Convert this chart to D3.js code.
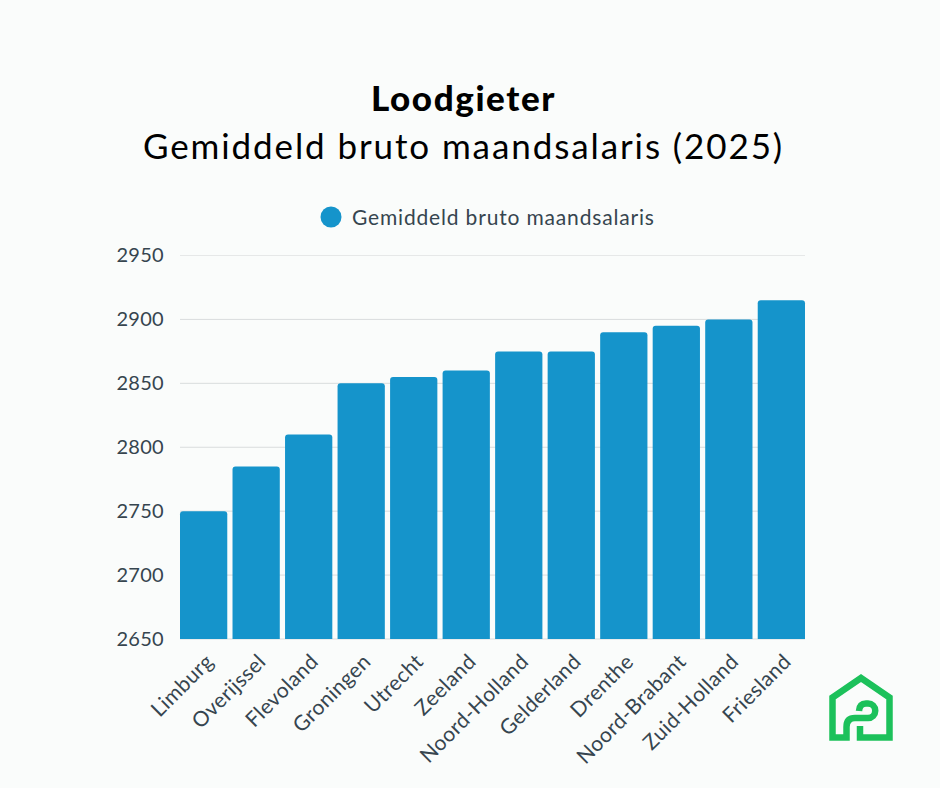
<!DOCTYPE html>
<html>
<head>
<meta charset="utf-8">
<script src="https://cdn.jsdelivr.net/npm/d3@7"></script>
<style>
html, body { margin: 0; padding: 0; background: #fafcfb; }
text { font-family: Lato, sans-serif; }
</style>
</head>
<body>
<script>
var categories = ["Limburg", "Overijssel", "Flevoland", "Groningen", "Utrecht", "Zeeland",
	"Noord-Holland", "Gelderland", "Drenthe", "Noord-Brabant", "Zuid-Holland", "Friesland"];
var salaris = [2750, 2785, 2810, 2850, 2855, 2860, 2875, 2875, 2890, 2895, 2900, 2915];
var yTicks = [2650, 2700, 2750, 2800, 2850, 2900, 2950];
var titleBold = "Loodgieter";
var titleSub = "Gemiddeld bruto maandsalaris (2025)";
var legendLabel = "Gemiddeld bruto maandsalaris";

var blue = "#1594cb";
var textColor = "#36454f";

var svg = d3.select("body").append("svg")
	.attr("width", 940)
	.attr("height", 788)
	.style("display", "block");

var x = d3.scaleBand().domain(categories).range([180, 805]).paddingInner(0.1).paddingOuter(0);
var y = d3.scaleLinear().domain([2650, 2950]).range([639, 255.5]);

//titles
svg.append("text")
	.attr("x", 463.5).attr("y", 111)
	.attr("text-anchor", "middle")
	.style("font-size", "35px").style("font-weight", 900).style("letter-spacing", "1.6px")
	.style("fill", "#000")
	.text(titleBold);
svg.append("text")
	.attr("x", 463.5).attr("y", 159)
	.attr("text-anchor", "middle")
	.style("font-size", "35px").style("letter-spacing", "1.9px")
	.style("fill", "#000")
	.text(titleSub);

//legend
svg.append("circle").attr("cx", 331).attr("cy", 217).attr("r", 10.5).style("fill", blue);
svg.append("text")
	.attr("x", 352).attr("y", 225)
	.style("font-size", "21px").style("letter-spacing", "0.83px")
	.style("fill", textColor)
	.text(legendLabel);

//gridlines
svg.selectAll("line.grid")
	.data(yTicks)
	.enter()
	.append("line")
	.attr("class", "grid")
	.attr("x1", 180).attr("x2", 805)
	.attr("y1", function(d) { return y(d); })
	.attr("y2", function(d) { return y(d); })
	.style("stroke", function(d) { return d == 2950 ? "#e6e8e8" : "#d9dcdd"; })
	.style("stroke-width", 1);

//y axis
var yAxis = svg.append("g")
	.attr("transform", "translate(180,0)")
	.call(d3.axisLeft(y).tickValues(yTicks).tickFormat(d3.format("d")).tickSize(0).tickPadding(16));
yAxis.select(".domain").remove();
yAxis.selectAll("text")
	.style("font-size", "20px").style("letter-spacing", "0.3px")
	.style("fill", textColor);

//bars, top corners rounded only
var r = 3;
svg.selectAll("path.bar")
	.data(salaris)
	.enter()
	.append("path")
	.attr("class", "bar")
	.attr("d", function(d, i) {
		var x0 = x(categories[i]);
		var x1 = x0 + x.bandwidth();
		return "M" + x0 + "," + y(2650) + "V" + (y(d) + r) + "Q" + x0 + "," + y(d) + " " + (x0 + r) + "," + y(d)
			+ "H" + (x1 - r) + "Q" + x1 + "," + y(d) + " " + x1 + "," + (y(d) + r) + "V" + y(2650) + "Z";
	})
	.style("fill", blue);

//x axis, labels rotated 45 degrees
var xAxis = svg.append("g")
	.attr("transform", "translate(0,639)")
	.call(d3.axisBottom(x).tickSize(0).tickPadding(0));
xAxis.select(".domain").remove();
xAxis.selectAll("text")
	.attr("text-anchor", "end")
	.attr("dy", 0)
	.attr("transform", "translate(11,24) rotate(-45)")
	.style("font-size", "21px").style("letter-spacing", "0.4px")
	.style("fill", textColor);

//logo
svg.append("path")
	.attr("d", "M860,726V737.5H889.5V697.5L861,678L832.5,697.5V737.5H846.5V727Q846.5,718 855,718H868A7.25,7.25 0 0 0 868,703.5H866Q859.5,703.5 859,711")
	.style("fill", "none")
	.style("stroke", "#1cc15b")
	.style("stroke-width", 6.5);
</script>
</body>
</html>
